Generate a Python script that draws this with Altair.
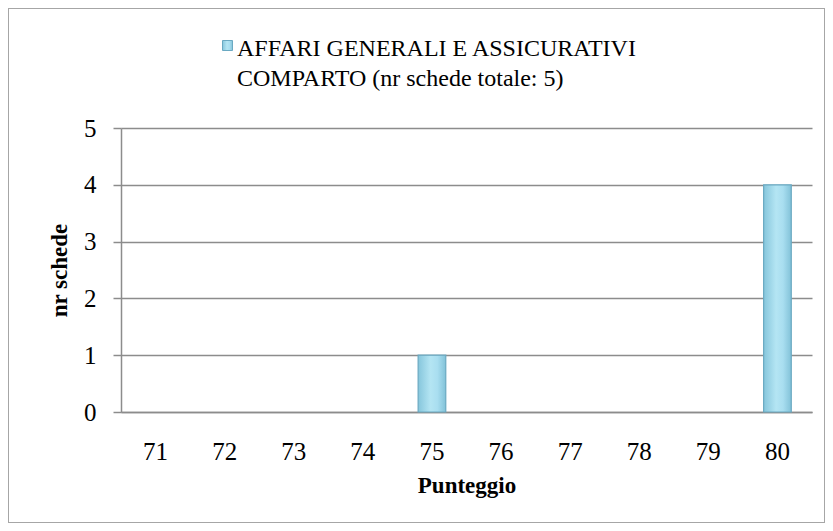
import altair as alt
import pandas as pd

punteggi = ["71", "72", "73", "74", "75", "76", "77", "78", "79", "80"]
nr_schede = [0, 0, 0, 0, 1, 0, 0, 0, 0, 4]
serie = "AFFARI GENERALI  E ASSICURATIVI"
serie_riga2 = "COMPARTO (nr schede totale: 5)"

df = pd.DataFrame({"Punteggio": punteggi, "n": nr_schede, "serie": [serie] * len(punteggi)})

FONT = "Liberation Serif, Times New Roman, serif"
W, H = 691, 284
PAD = {"left": 113, "top": 120, "right": 13, "bottom": 111}

grad = alt.Gradient(
    gradient="linear",
    x1=0, x2=1, y1=0, y2=0,
    stops=[
        alt.GradientStop(color="#86c6dc", offset=0),
        alt.GradientStop(color="#b4e5f3", offset=0.45),
        alt.GradientStop(color="#a9def0", offset=0.7),
        alt.GradientStop(color="#82c2d8", offset=1),
    ],
)

bars = alt.Chart(df).transform_filter("datum.n > 0").mark_bar(
    fill=grad, strokeWidth=1.2, clip=False
).encode(
    x=alt.X("Punteggio:N", sort=punteggi,
            scale=alt.Scale(domain=punteggi, paddingInner=0.6, paddingOuter=0.3),
            axis=alt.Axis(title="Punteggio", labelAngle=0, ticks=False, labelPadding=27,
                          domainColor="#8c8c8c", domainWidth=1.5, titlePadding=10)),
    y=alt.Y("n:Q", scale=alt.Scale(domain=[0, 5], nice=False),
            axis=alt.Axis(title="nr schede", values=[0, 1, 2, 3, 4, 5],
                          grid=True, gridColor="#8c8c8c", gridWidth=1.5,
                          tickColor="#8c8c8c", tickSize=8, tickWidth=1.5,
                          domainColor="#8c8c8c", domainWidth=1.5,
                          labelPadding=17, titlePadding=12, labelOverlap=False)),
    stroke=alt.Stroke("serie:N", scale=alt.Scale(range=["#6aa9c2"]),
                      legend=alt.Legend(title=None, orient="none", legendX=101, legendY=-88,
                                        symbolType="square", symbolSize=100,
                                        symbolFillColor="#a9def0", symbolStrokeWidth=1,
                                        labelExpr="''", labelFontSize=1, labelOffset=0)),
)

border = alt.Chart(df).mark_rect(fill=None, stroke="#a6a6a6", strokeWidth=1, clip=False).encode(
    x=alt.value(-PAD["left"] + 0.5), x2=alt.value(W + PAD["right"] - 0.5),
    y=alt.value(-PAD["top"] + 0.5), y2=alt.value(H + PAD["bottom"] - 0.5),
)

chart = alt.layer(border, bars).properties(
    width=W, height=H, autosize=alt.AutoSizeParams(type="none"), padding=PAD,
    background="white",
    title=alt.TitleParams(text=serie, subtitle=serie_riga2, anchor="start", frame="group",
                          dx=116, offset=-83, baseline="top",
                          font=FONT, fontSize=24, fontWeight="normal", color="#000000",
                          subtitleFont=FONT, subtitleFontSize=24, subtitleColor="#000000",
                          subtitleFontWeight="normal", subtitlePadding=6),
).configure_view(stroke=None).configure_axis(
    labelFont=FONT, labelFontSize=25, labelColor="#000000",
    titleFont=FONT, titleFontSize=23, titleFontWeight="bold", titleColor="#000000",
).configure_title(
    font=FONT, subtitleFont=FONT,
)

chart.save("out.html", embed_options={"renderer": "svg", "actions": False})
